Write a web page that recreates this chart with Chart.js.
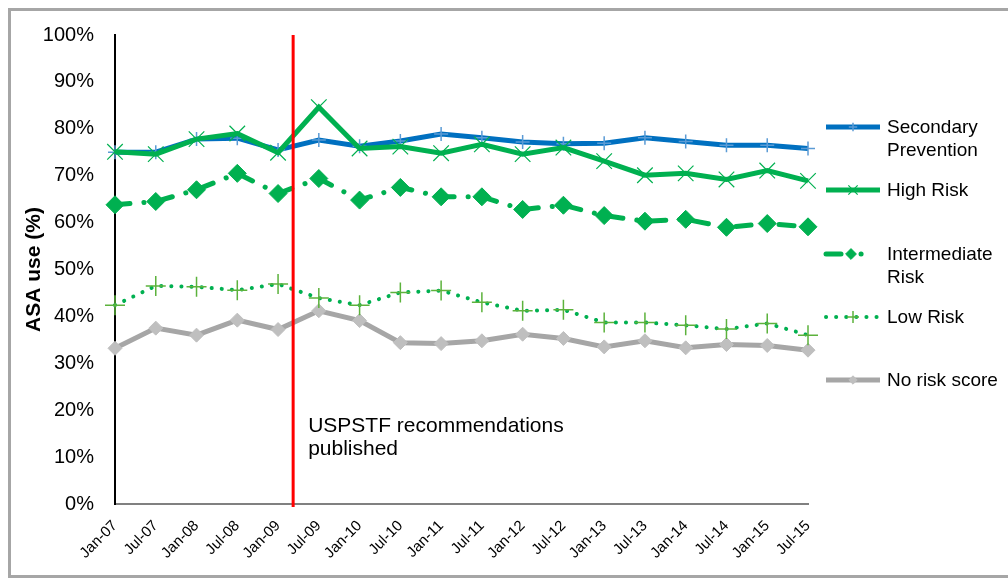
<!DOCTYPE html>
<html>
<head>
<meta charset="utf-8">
<script src="https://cdn.jsdelivr.net/npm/chart.js@4/dist/chart.umd.min.js"></script>
<style>
  html, body { margin: 0; padding: 0; background: #ffffff; }
  #wrap { width: 1008px; height: 580px; position: relative; }
</style>
</head>
<body>
<div id="wrap"><canvas id="c" width="1008" height="580"></canvas></div>
<script>
// ---- data ----
const categories = ["Jan-07","Jul-07","Jan-08","Jul-08","Jan-09","Jul-09","Jan-10","Jul-10","Jan-11","Jul-11","Jan-12","Jul-12","Jan-13","Jul-13","Jan-14","Jul-14","Jan-15","Jul-15"];
const secondaryPrevention = [75.0, 75.0, 77.8, 78.0, 75.5, 77.6, 76.3, 77.4, 78.9, 78.1, 77.2, 76.8, 76.9, 78.1, 77.3, 76.5, 76.5, 75.8];
const highRisk            = [75.1, 74.6, 77.8, 79.0, 74.9, 84.6, 75.8, 76.2, 74.8, 76.7, 74.6, 76.0, 73.1, 70.1, 70.5, 69.2, 71.1, 68.9];
const intermediateRisk    = [63.8, 64.5, 67.0, 70.5, 66.2, 69.4, 64.8, 67.5, 65.5, 65.5, 62.8, 63.7, 61.5, 60.3, 60.7, 59.0, 59.8, 59.1];
const lowRisk             = [42.4, 46.5, 46.3, 45.6, 46.9, 43.9, 42.4, 45.1, 45.5, 43.0, 41.2, 41.4, 38.7, 38.7, 38.1, 37.3, 38.5, 36.0];
const noRiskScore         = [33.2, 37.5, 36.0, 39.2, 37.2, 41.2, 39.1, 34.4, 34.2, 34.8, 36.2, 35.3, 33.5, 34.8, 33.3, 34.0, 33.8, 32.8];
const seriesNames = ["Secondary Prevention", "High Risk", "Intermediate Risk", "Low Risk", "No risk score"];
const legendLines = [["Secondary", "Prevention"], ["High Risk"], ["Intermediate", "Risk"], ["Low Risk"], ["No risk score"]];
const yTickValues = [0, 10, 20, 30, 40, 50, 60, 70, 80, 90, 100];
const yAxisTitle = "ASA use (%)";
const eventIndex = 4.37; // USPSTF recommendations (approx. Mar-09)
const eventLabel = ["USPSTF recommendations", "published"];

const FONT = "'Liberation Sans', Arial, sans-serif";

// ---- plugins ----
const framePlugin = {
  id: 'frame',
  beforeDraw(chart) {
    const ctx = chart.ctx;
    ctx.save();
    ctx.strokeStyle = '#a6a6a6';
    ctx.lineWidth = 3;
    ctx.strokeRect(9.5, 9.5, 1010, 567);
    ctx.restore();
  }
};

const eventPlugin = {
  id: 'eventLine',
  afterDatasetsDraw(chart) {
    const ctx = chart.ctx;
    const xs = chart.scales.x, ys = chart.scales.y;
    const x = xs.getPixelForValue(eventIndex);
    ctx.save();
    ctx.strokeStyle = '#ff0000';
    ctx.lineWidth = 3;
    ctx.beginPath();
    ctx.moveTo(x, ys.getPixelForValue(100));
    ctx.lineTo(x, ys.getPixelForValue(0) + 3);
    ctx.stroke();
    ctx.fillStyle = '#000000';
    ctx.font = "21px " + FONT;
    ctx.textAlign = 'left';
    ctx.textBaseline = 'alphabetic';
    eventLabel.forEach((t, i) => ctx.fillText(t, x + 15, ys.getPixelForValue(17) + 8 + i * 23));
    ctx.restore();
  }
};

const legendPlugin = {
  id: 'customLegend',
  afterDraw(chart) {
    const ctx = chart.ctx;
    const H = Chart.helpers;
    const x0 = 826, x1 = 880, tx = 887;
    const ys = [127, 190, 254, 317, 380];
    ctx.save();
    chart.data.datasets.forEach((ds, i) => {
      const y = ys[i];
      ctx.save();
      ctx.strokeStyle = ds.borderColor;
      ctx.lineWidth = ds.borderWidth;
      ctx.lineCap = ds.borderCapStyle || 'butt';
      ctx.setLineDash(ds.borderDash || []);
      ctx.beginPath();
      if (i === 2) {
        ctx.moveTo(x0, y); ctx.lineTo(x0 + 20, y);
        ctx.stroke();
        ctx.setLineDash([]);
        ctx.lineCap = 'round';
        ctx.beginPath();
        ctx.moveTo(x0 + 35, y); ctx.lineTo(x0 + 35.1, y);
      } else {
        ctx.moveTo(x0, y); ctx.lineTo(x1, y);
      }
      ctx.stroke();
      ctx.restore();
      ctx.save();
      ctx.fillStyle = ds.pointBackgroundColor;
      ctx.strokeStyle = ds.pointBorderColor;
      ctx.lineWidth = ds.pointBorderWidth;
      const mx = i === 2 ? x0 + 25 : (x0 + x1) / 2;
      H.drawPoint(ctx, { pointStyle: ds.pointStyle, radius: ds.pointRadius * 0.6, borderWidth: ds.pointBorderWidth, rotation: 0 }, mx, y);
      ctx.restore();
      ctx.fillStyle = '#000000';
      ctx.font = "19px " + FONT;
      ctx.textBaseline = 'middle';
      ctx.textAlign = 'left';
      const lines = legendLines[i];
      lines.forEach((t, k) => ctx.fillText(t, tx, y + 1 + k * 23));
    });
    ctx.restore();
  }
};

// ---- chart ----
new Chart(document.getElementById('c'), {
  type: 'line',
  data: {
    labels: categories,
    datasets: [
      {
        label: seriesNames[0], data: secondaryPrevention, order: 2,
        borderColor: '#0070c0', borderWidth: 5,
        pointStyle: 'cross', pointRadius: 7, pointBorderWidth: 1.5,
        pointBorderColor: '#5b9bd5', pointBackgroundColor: '#5b9bd5'
      },
      {
        label: seriesNames[1], data: highRisk, order: 1,
        borderColor: '#00b050', borderWidth: 5,
        pointStyle: 'crossRot', pointRadius: 11, pointBorderWidth: 1.2,
        pointBorderColor: '#00b050', pointBackgroundColor: '#00b050'
      },
      {
        label: seriesNames[2], data: intermediateRisk, order: 0,
        borderColor: '#00b050', borderWidth: 5, borderDash: [15, 14, 0.1, 14], borderCapStyle: 'round',
        pointStyle: 'rectRot', pointRadius: 9, pointBorderWidth: 1,
        pointBorderColor: '#00b050', pointBackgroundColor: '#00b050'
      },
      {
        label: seriesNames[3], data: lowRisk, order: 0,
        borderColor: '#00b050', borderWidth: 4, borderDash: [0.1, 10], borderCapStyle: 'round',
        pointStyle: 'cross', pointRadius: 10, pointBorderWidth: 1.5,
        pointBorderColor: '#5cb23c', pointBackgroundColor: '#5cb23c'
      },
      {
        label: seriesNames[4], data: noRiskScore, order: 0,
        borderColor: '#a6a6a6', borderWidth: 5,
        pointStyle: 'rectRot', pointRadius: 7, pointBorderWidth: 1,
        pointBorderColor: '#bfbfbf', pointBackgroundColor: '#bfbfbf'
      }
    ]
  },
  options: {
    responsive: false,
    animation: false,
    devicePixelRatio: 1,
    clip: false,
    elements: { line: { tension: 0, fill: false }, point: { hoverRadius: 8 } },
    layout: { padding: { left: 0, right: 200, top: 35, bottom: 0 } },
    plugins: { legend: { display: false }, tooltip: { enabled: false } },
    scales: {
      x: {
        type: 'category',
        offset: false,
        grid: { display: false },
        border: { display: true, color: '#808080', width: 2 },
        ticks: {
          color: '#000000', font: { family: FONT, size: 15 },
          minRotation: 45, maxRotation: 45, autoSkip: false, padding: 5
        },
        afterFit(scale) { scale.height = 76; }
      },
      y: {
        min: 0, max: 100,
        grid: { display: false },
        border: { display: true, color: '#000000', width: 2 },
        afterBuildTicks(scale) { scale.ticks = yTickValues.map(v => ({ value: v })); },
        ticks: {
          color: '#000000', font: { family: FONT, size: 20 }, padding: 13,
          callback: v => v + '%'
        },
        title: {
          display: true, text: yAxisTitle, color: '#000000',
          font: { family: FONT, size: 21, weight: 'bold' },
          padding: { top: 22, bottom: 0 }
        },
        afterFit(scale) { scale.width = 115; }
      }
    }
  },
  plugins: [framePlugin, eventPlugin, legendPlugin]
});
</script>
</body>
</html>
